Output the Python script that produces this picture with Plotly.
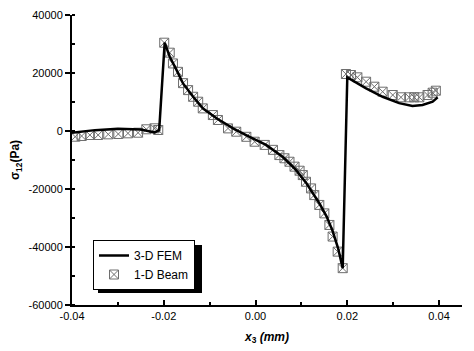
import plotly.graph_objects as go

# 3-D FEM (solid line)
fem_x = [-0.040, -0.035, -0.030, -0.025, -0.022, -0.021, -0.0198, -0.0187, -0.0172, -0.0158,
         -0.0136, -0.0115, -0.0085, -0.0049, -0.0013, 0.0023, 0.0059, 0.0088, 0.0110, 0.0125,
         0.0139, 0.0155, 0.0168, 0.0180, 0.0190, 0.0200, 0.0241, 0.0277, 0.0313, 0.0342,
         0.0364, 0.0386, 0.0397]
fem_y = [-600, 300, 800, 500, -500, 300, 30500, 25600, 21000, 16400,
         11800, 7800, 4400, 900, -2000, -4800, -8900, -13400, -17800, -21300,
         -24900, -29500, -34500, -40500, -47300, 18500, 14700, 11800, 9600, 8600,
         9000, 10100, 11600]

# 1-D Beam (markers)
beam_x = [-0.0393, -0.0379, -0.0361, -0.0343, -0.0321, -0.0299, -0.0278, -0.0256, -0.0238, -0.0220,
          -0.0212, -0.0199, -0.0187, -0.0180, -0.0169, -0.0158, -0.0147, -0.0136, -0.0125, -0.0115,
          -0.0093, -0.0082, -0.0060, -0.0042, -0.0020, -0.0002, 0.0020, 0.0038, 0.0052, 0.0063,
          0.0074, 0.0085, 0.0096, 0.0103, 0.0110, 0.0121, 0.0128, 0.0139, 0.0150, 0.0161,
          0.0168, 0.0179, 0.0190, 0.0197, 0.0208, 0.0222, 0.0241, 0.0259, 0.0277, 0.0299,
          0.0317, 0.0335, 0.0346, 0.0357, 0.0375, 0.0386, 0.0393]
beam_y = [-1970, -1720, -1380, -1380, -1150, -1030, -800, -590, 590, 930,
          345, 30450, 27000, 23300, 20400, 16500, 14100, 11800, 10100, 7800,
          5500, 3800, 900, -240, -2000, -3700, -4800, -6500, -8300, -9400,
          -10600, -12300, -13700, -15200, -17500, -19800, -22100, -25500, -28400, -32400,
          -36400, -41600, -47300, 19650, 19310, 18510, 17000, 15280, 13550, 12410,
          11620, 11620, 11620, 11620, 12410, 13210, 13900]

x_ticks = [-0.04, -0.02, 0.00, 0.02, 0.04]
x_labels = ["-0.04", "-0.02", "0.00", "0.02", "0.04"]
y_ticks = [-60000, -40000, -20000, 0, 20000, 40000]
y_labels = ["-60000", "-40000", "-20000", "0", "20000", "40000"]

font_family = "Liberation Sans, Arial, sans-serif"

# plot area in px: x 72..462, y 15..305
def px_x(p):
    return (p - 72) / 390

def px_y(p):
    return (305 - p) / 290

fig = go.Figure()
fig.add_trace(go.Scatter(
    x=beam_x, y=beam_y, mode="markers", name="1-D Beam",
    marker=dict(symbol="square-x-open", size=9, color="#6e6e6e", line=dict(width=1, color="#6e6e6e")),
))
fig.add_trace(go.Scatter(
    x=fem_x, y=fem_y, mode="lines", name="3-D FEM",
    line=dict(color="black", width=2.5),
))

# legend shadow
fig.add_shape(type="rect", xref="paper", yref="paper",
              x0=px_x(98), x1=px_x(202),
              y0=px_y(293), y1=px_y(245),
              fillcolor="black", line=dict(width=0), layer="above")

fig.update_layout(
    width=474, height=351,
    margin=dict(l=72, r=12, t=15, b=46),
    paper_bgcolor="white", plot_bgcolor="white",
    font=dict(family=font_family, size=11, color="black"),
    showlegend=True,
    legend=dict(
        x=px_x(93), y=px_y(240), xanchor="left", yanchor="top",
        bgcolor="white", bordercolor="black", borderwidth=1,
        font=dict(size=12, family=font_family, color="black"),
        traceorder="reversed", tracegroupgap=0,
        itemwidth=30,
    ),
    xaxis=dict(
        range=[-0.04, 0.045], tickmode="array", tickvals=x_ticks, ticktext=x_labels,
        showgrid=False, zeroline=False, showline=True, linecolor="black", linewidth=2,
        ticks="inside", ticklen=5, tickwidth=2, tickcolor="black", automargin=False,
        minor=dict(dtick=0.01, tick0=-0.04, ticks="inside", ticklen=3, tickwidth=1.5, tickcolor="black", showgrid=False),
        title=dict(text="<b><i>x</i><sub>3</sub> <i>(mm)</i></b>", font=dict(size=12), standoff=11),
    ),
    yaxis=dict(
        range=[-60000, 40000], tickmode="array", tickvals=y_ticks, ticktext=y_labels,
        showgrid=False, zeroline=False, showline=True, linecolor="black", linewidth=2,
        ticks="outside", ticklen=5, tickwidth=2, tickcolor="black", automargin=False,
        minor=dict(dtick=10000, tick0=0, ticks="inside", ticklen=3, tickwidth=1.5, tickcolor="black", showgrid=False),
        title=dict(text="<b>σ<sub>12</sub>(Pa)</b>", font=dict(size=12), standoff=6),
    ),
)

fig.write_html("out.html")
